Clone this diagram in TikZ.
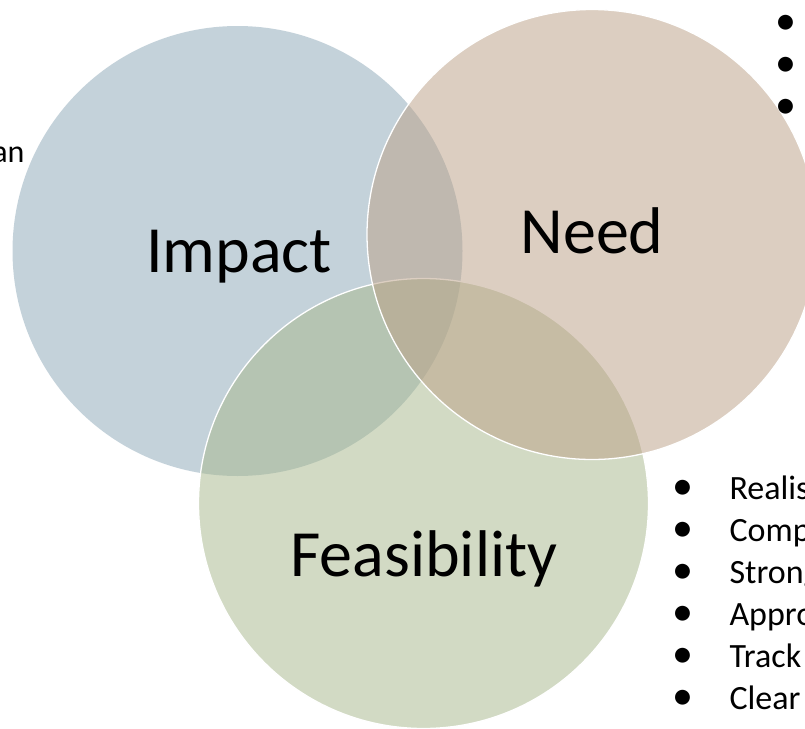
\documentclass[tikz,border=0pt]{standalone}
\usepackage{fontspec}
\setmainfont{Carlito}
\usetikzlibrary{calc}
\definecolor{impactblue}{RGB}{139,167,183}
\definecolor{needtan}{RGB}{187,159,133}
\definecolor{feasgreen}{RGB}{167,183,139}

\begin{document}
\begin{tikzpicture}[x=1pt,y=-1pt,
        venn/.style={line width=1.3pt,fill opacity=0.5},
        bigword/.style={font=\fontsize{66}{79}\selectfont,anchor=base},
        listword/.style={font=\fontsize{34}{41}\selectfont,anchor=base west},
        dotword/.style={font=\fontsize{42}{50}\selectfont,anchor=base}]
        \useasboundingbox (0,0) rectangle (805,728);
        \fill[white] (0,0) rectangle (805,728);
        % the three circles
        \fill[venn,fill=impactblue] (237.5,251) circle (225);
        \draw[venn,draw=white,fill=feasgreen] (423.5,503.5) circle (225);
        \draw[venn,draw=white,fill=needtan] (592,234.5) circle (225);
        \node[bigword] (impact) at (239,272) {Impact};
        \node[bigword] (need) at (592,253) {Need};
        \node[bigword] (feasibility) at (424,576) {Feasibility};
        % lists, cut by the page edge
        \node[font=\fontsize{32}{38}\selectfont,anchor=base east] (leftend) at (28,162) {an};
        \foreach \y/\n in {34/a,76/b,118/c}
        \node[dotword] (topdot\n) at (786,\y) {•};
        \foreach \y/\w/\n in {499/Realis/a,541/Comp/b,583/Strong/c,625/Appro/d,667/Track/e,709/Clear/f}{
        \node[dotword] (lowdot\n) at (683,\y) {•};
        \node[listword] (lowword\n) at (726,\y) {\w};
        }
    \end{tikzpicture}
\end{document}
